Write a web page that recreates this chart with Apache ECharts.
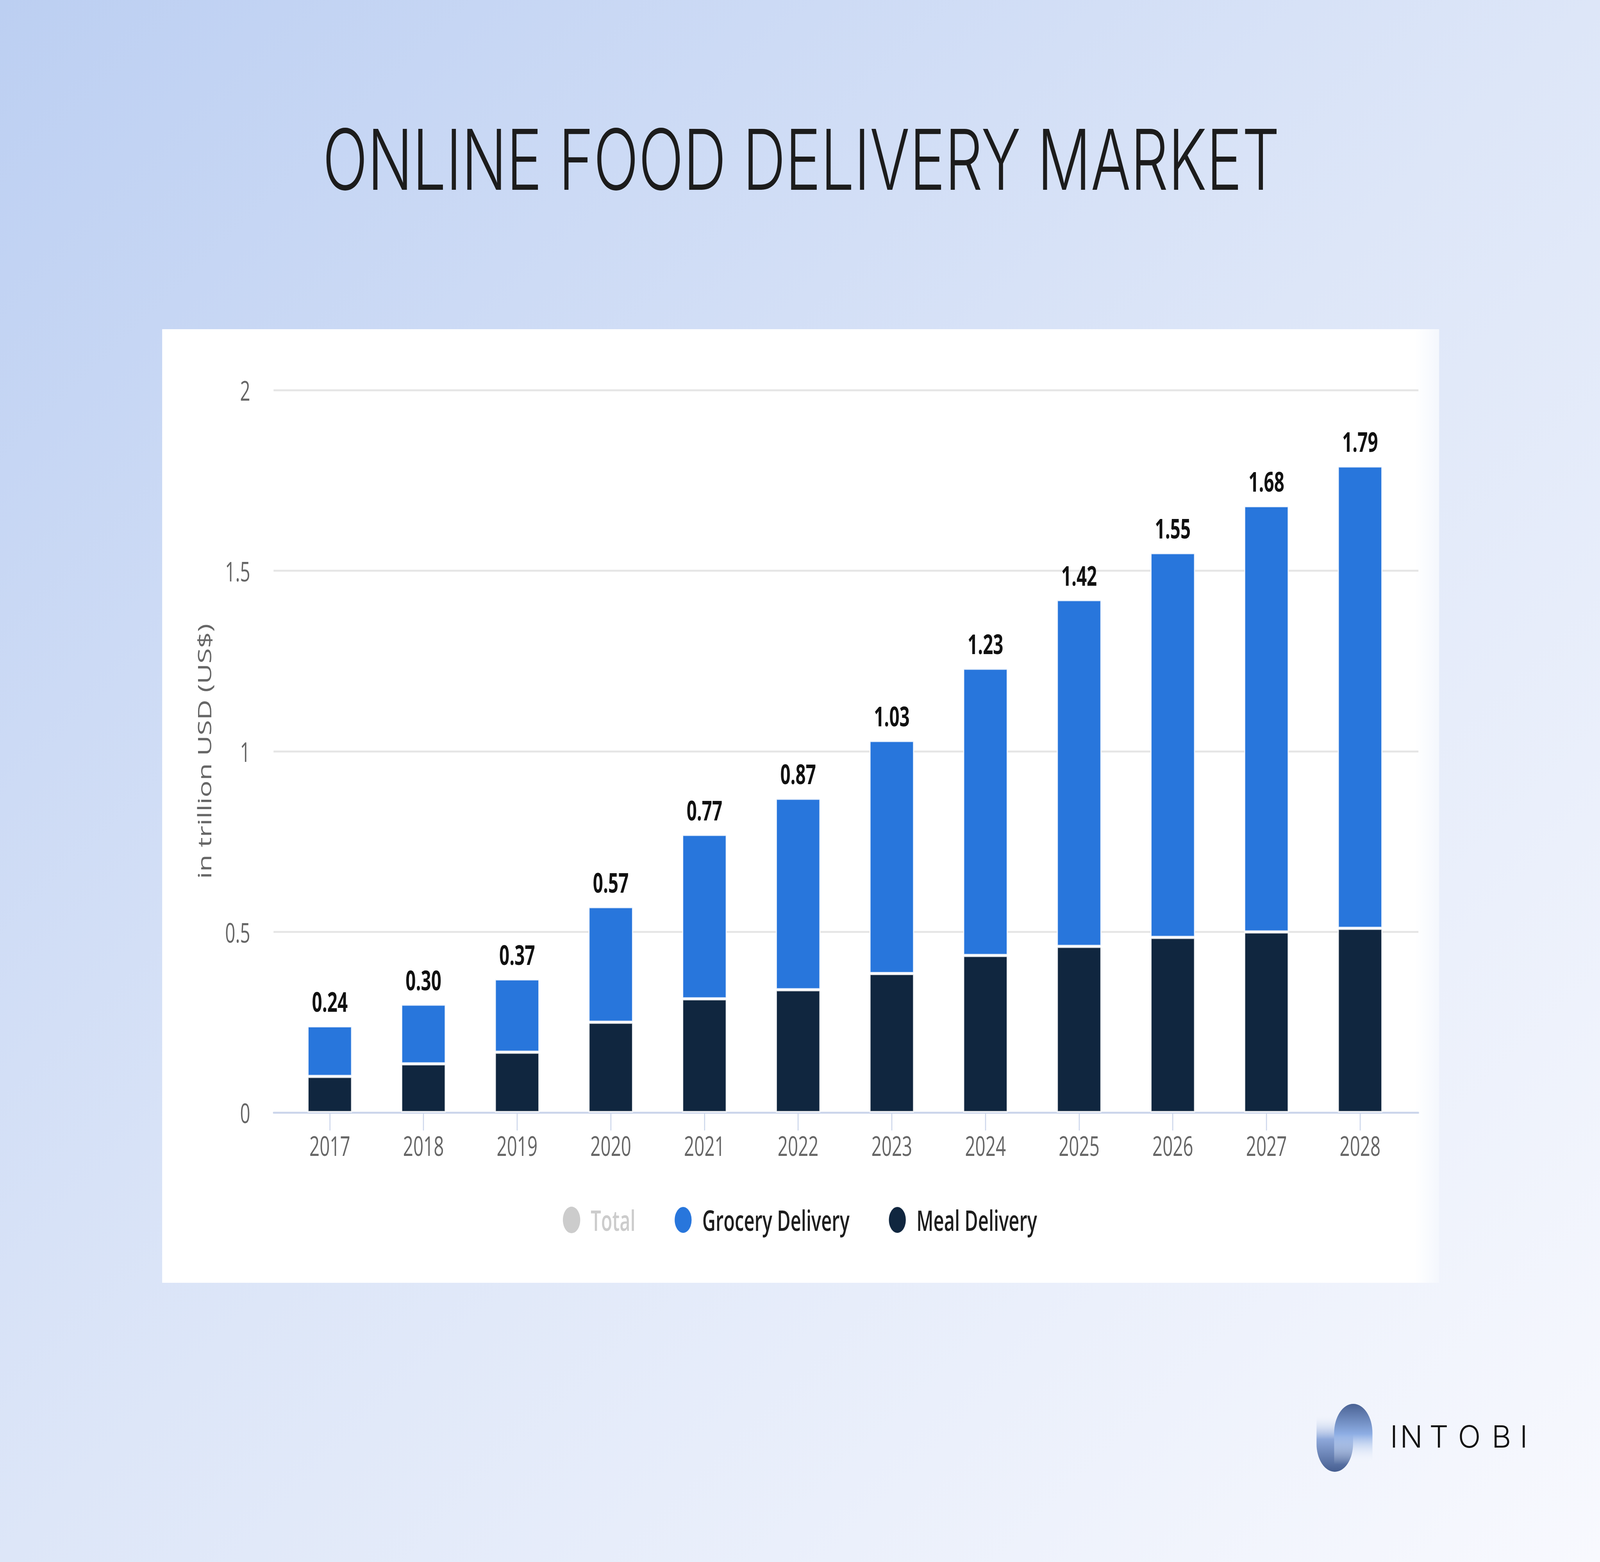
<!DOCTYPE html>
<html>
<head>
<meta charset="utf-8">
<script src="https://cdn.jsdelivr.net/npm/echarts@6/dist/echarts.min.js"></script>
<style>
html,body{margin:0;padding:0;background:#fff;overflow:hidden;}
#c{width:6265px;height:4000px;transform-origin:0 0;position:absolute;left:0;top:0;}
</style>
</head>
<body>
<div id="c"></div>
<script>
// ---- data (trillion USD) ----
const years = ['2017','2018','2019','2020','2021','2022','2023','2024','2025','2026','2027','2028'];
const totalValues = [0.24, 0.30, 0.37, 0.57, 0.77, 0.87, 1.03, 1.23, 1.42, 1.55, 1.68, 1.79];
const groceryValues = [0.14, 0.165, 0.203, 0.32, 0.455, 0.53, 0.645, 0.795, 0.96, 1.065, 1.18, 1.28];
const mealValues = [0.10, 0.135, 0.167, 0.25, 0.315, 0.34, 0.385, 0.435, 0.46, 0.485, 0.50, 0.51];
const yMin = 0, yMax = 2, yStep = 0.5;

const titleText = 'ONLINE FOOD DELIVERY MARKET';
const yAxisName = 'in trillion USD (US$)';
const legendNames = ['Total', 'Grocery Delivery', 'Meal Delivery'];
const brandLetters = ['I','N','T','O','B','I'];
const brandOffsets = [0, 39, 154, 266, 398, 508];

// fit the 6265x4000 design into whatever window we get
const W = 6265, H = 4000;
const el = document.getElementById('c');
const sx = (window.innerWidth || W) / W, sy = (window.innerHeight || H) / H;
el.style.transform = 'scale(' + sx + ',' + sy + ')';

const chart = echarts.init(el, null, {renderer:'svg', width:W, height:H});

const FONT = '"Open Sans", "DejaVu Sans", sans-serif';

const graphics = [
  {type:'rect', z:-100, silent:true, shape:{x:0,y:0,width:W,height:H},
   style:{fill:new echarts.graphic.LinearGradient(0,0,1,1,[
     {offset:0,color:'#bccff2'},{offset:0.5,color:'#dde6f8'},{offset:1,color:'#f8f9fe'}])}},
  {type:'rect', z:-99, silent:true, shape:{x:635,y:843,width:5000,height:2442},
   style:{fill:'#ffffff'}},
  {type:'rect', z:-98, silent:true, shape:{x:5540,y:843,width:95,height:2442},
   style:{fill:new echarts.graphic.LinearGradient(0,0,1,0,[
     {offset:0,color:'rgba(255,255,255,1)'},{offset:1,color:'rgba(244,247,253,1)'}])}},
  {type:'text', z:10, silent:true, x:3137, y:408, scaleX:1.08,
   style:{text:titleText, x:0, y:0, align:'center', verticalAlign:'middle',
     font:'300 215px Inter, "Open Sans", sans-serif', fill:'#1c1c1c'}},
  {type:'rect', z:10, silent:true, shape:{x:5155,y:3617,width:143,height:152,r:[0,0,72,72]},
   style:{fill:new echarts.graphic.LinearGradient(0,0,0,1,[
     {offset:0,color:'rgba(255,255,255,0)'},{offset:0.45,color:'#8ea8da'},{offset:1,color:'#465e90'}])}},
  {type:'rect', z:11, silent:true, shape:{x:5224,y:3595,width:150,height:155,r:[75,75,0,0]},
   style:{fill:new echarts.graphic.LinearGradient(0,0,0,1,[
     {offset:0,color:'#4a6294'},{offset:0.5,color:'#8eaee4'},{offset:1,color:'rgba(255,255,255,0)'}])}}
];
brandLetters.forEach((ch, i) => {
  graphics.push({type:'text', z:10, silent:true, x:5443 + brandOffsets[i], y:3679, scaleX:1.5,
    style:{text:ch, x:0, y:0, align:'left', verticalAlign:'middle',
      font:'300 78px Inter, "Open Sans", sans-serif', fill:'#111'}});
});

const option = {
  backgroundColor:'transparent',
  animation:false,
  graphic:graphics,
  legend:{
    data:legendNames,
    selected:{'Total':false},
    left:'center', top:3083,
    icon:'circle', itemWidth:68, itemHeight:68, itemGap:152,
    inactiveColor:'#cccccc',
    textStyle:{fontFamily:FONT, fontSize:72, fontWeight:600, color:'#1e1e1e', padding:[0,0,0,36]}
  },
  grid:[
    {left:1071, right:711, top:999, bottom:1151, containLabel:false},
    {left:1108, right:756, top:999, bottom:1151, containLabel:false}
  ],
  xAxis:[
    {gridIndex:0, type:'category', data:years,
     axisLine:{lineStyle:{color:'#ccd6eb', width:5}},
     axisTick:{show:false}, axisLabel:{show:false}, splitLine:{show:false}},
    {gridIndex:1, type:'category', data:years,
     axisLine:{show:false},
     axisTick:{show:true, alignWithLabel:true, length:46, lineStyle:{color:'#ccd6eb', width:4}},
     axisLabel:{fontFamily:FONT, fontSize:70, color:'#666', margin:49}}
  ],
  yAxis:[
    {gridIndex:0, type:'value', min:yMin, max:yMax, interval:yStep,
     name:yAxisName, nameLocation:'middle', nameRotate:90, nameGap:236,
     nameTextStyle:{fontFamily:FONT, fontSize:72, color:'#666'},
     axisLine:{show:false}, axisTick:{show:false},
     axisLabel:{fontFamily:FONT, fontSize:70, color:'#666', margin:91},
     splitLine:{lineStyle:{color:'#e6e6e6', width:5}}},
    {gridIndex:1, type:'value', min:yMin, max:yMax, interval:yStep, show:false,
     splitLine:{show:false}}
  ],
  series:[
    {name:'Total', type:'bar', xAxisIndex:1, yAxisIndex:1, data:totalValues, barWidth:174,
     itemStyle:{color:'#cccccc'}},
    {name:'Meal Delivery', type:'bar', xAxisIndex:1, yAxisIndex:1, stack:'s', data:mealValues, barWidth:174,
     itemStyle:{color:'#10263f', borderColor:'rgba(255,255,255,0.85)', borderWidth:4}},
    {name:'Grocery Delivery', type:'bar', xAxisIndex:1, yAxisIndex:1, stack:'s', data:groceryValues, barWidth:174,
     itemStyle:{color:'#2876dc', borderColor:'rgba(255,255,255,0.85)', borderWidth:4},
     label:{show:true, position:'top', distance:28,
       formatter:(p) => totalValues[p.dataIndex].toFixed(2),
       fontFamily:FONT, fontSize:70, fontWeight:'bold', color:'#111'}}
  ]
};
chart.setOption(option);
</script>
</body>
</html>
